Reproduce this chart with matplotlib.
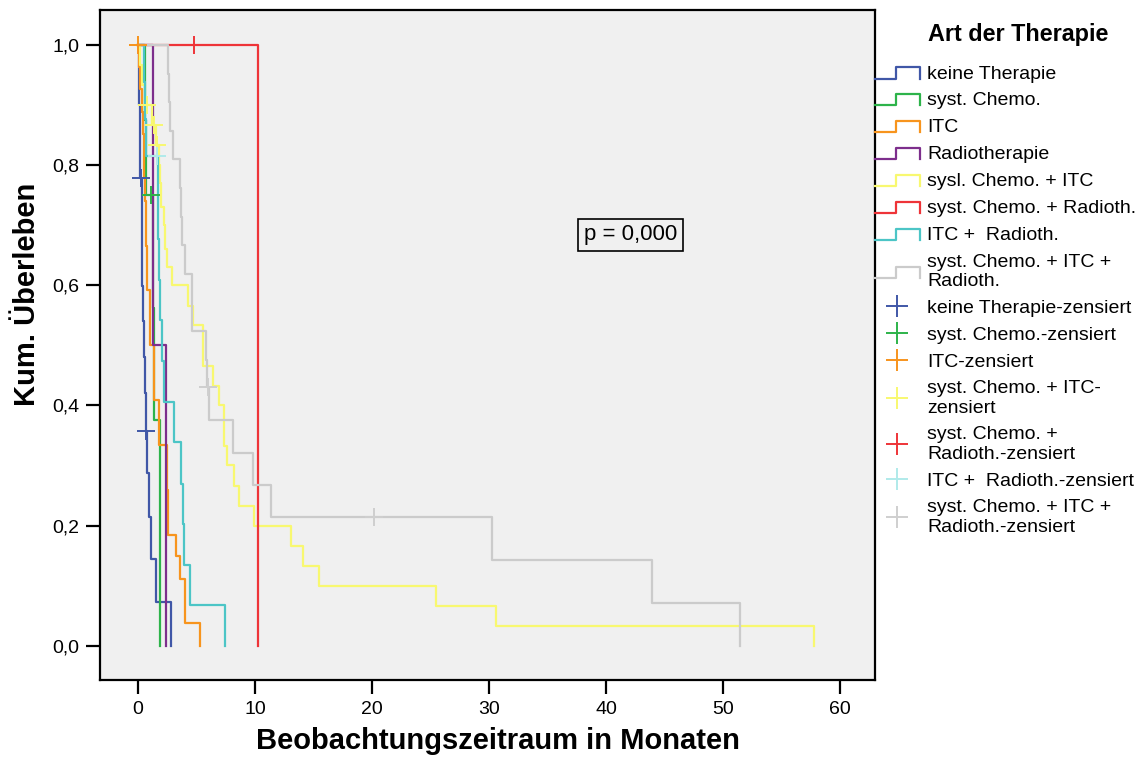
import numpy as np
import matplotlib
matplotlib.use("Agg")
import matplotlib.pyplot as plt
from matplotlib.lines import Line2D
from matplotlib.legend_handler import HandlerBase
from matplotlib.ticker import FuncFormatter

plt.rcParams['font.family'] = ['Liberation Sans', 'DejaVu Sans']

# Kaplan-Meier Stufen (Monate, kum. Ueberleben) je Therapiegruppe
keine_t = [0, 0.05, 0.1, 0.15, 0.2, 0.3, 0.33, 0.38, 0.45, 0.49, 0.62, 0.65, 0.77, 0.91, 1.11, 1.54, 2.82]
keine_s = [1.0, 0.95, 0.9, 0.86, 0.779, 0.72, 0.66, 0.598, 0.54, 0.48, 0.421, 0.358, 0.288, 0.215, 0.145, 0.072, 0.0]
keine_ct = [0.28, 0.7]
keine_cs = [0.779, 0.358]

chemo_t = [0, 0.6, 0.7, 1.3, 1.4, 1.85]
chemo_s = [1.0, 0.875, 0.75, 0.5625, 0.375, 0.0]
chemo_ct = [1.11]
chemo_cs = [0.75]

itc_t = [0, 0.1, 0.2, 0.3, 0.4, 0.5, 0.55, 0.6, 0.65, 0.7, 0.75, 0.77, 1.05, 1.34, 1.77,
         2.45, 2.5, 2.55, 2.6, 3.27, 3.61, 3.99, 5.32]
itc_s = [1.0, 0.963, 0.926, 0.889, 0.852, 0.815, 0.778, 0.74, 0.703, 0.666, 0.63, 0.592, 0.5, 0.409, 0.334,
         0.297, 0.26, 0.222, 0.185, 0.149, 0.111, 0.038, 0.0]
itc_ct = [0.0]
itc_cs = [1.0]

radio_t = [0, 1.3, 2.42]
radio_s = [1.0, 0.5, 0.0]

chemo_itc_t = [0, 0.15, 0.3, 0.6, 1.2, 1.5, 1.8, 1.85, 2.0, 2.2, 2.3, 2.5, 2.9, 4.3, 4.72, 5.57, 6.42,
               6.91, 7.34, 7.57, 8.22, 8.62, 9.9, 13.05, 14.1, 15.47, 25.43, 30.6, 57.8]
chemo_itc_s = [1.0, 0.967, 0.933, 0.9, 0.866, 0.834, 0.8, 0.77, 0.73, 0.7, 0.66, 0.63, 0.6, 0.566, 0.533,
               0.466, 0.433, 0.4, 0.333, 0.3, 0.266, 0.233, 0.2, 0.166, 0.133, 0.1, 0.066, 0.033, 0.0]
chemo_itc_ct = [0.77, 1.34, 1.62]
chemo_itc_cs = [0.9, 0.866, 0.834]

chemo_radio_t = [0, 10.24]
chemo_radio_s = [1.0, 0.0]
chemo_radio_ct = [4.78]
chemo_radio_cs = [1.0]

itc_radio_t = [0, 0.55, 0.6, 0.65, 1.7, 1.75, 1.82, 1.9, 2.05, 2.19, 3.05, 3.7, 3.82, 3.9, 4.46, 7.42]
itc_radio_s = [1.0, 0.938, 0.877, 0.815, 0.745, 0.677, 0.609, 0.542, 0.474, 0.405, 0.339, 0.27, 0.203,
               0.135, 0.068, 0.0]
itc_radio_ct = [1.62]
itc_radio_cs = [0.815]

alle_t = [0, 2.53, 2.65, 2.75, 3.01, 3.58, 3.67, 3.8, 3.98, 4.58, 5.8, 5.9, 6.06, 8.08, 9.79, 11.35,
          30.3, 43.9, 51.5]
alle_s = [1.0, 0.952, 0.905, 0.857, 0.81, 0.762, 0.714, 0.667, 0.619, 0.524, 0.476, 0.43, 0.375, 0.321,
          0.268, 0.214, 0.143, 0.0714, 0.0]
alle_ct = [6.0, 20.2]
alle_cs = [0.43, 0.214]

namen = ["keine Therapie", "syst. Chemo.", "ITC", "Radiotherapie", "sysl. Chemo. + ITC",
         "syst. Chemo. + Radioth.", "ITC +  Radioth.", "syst. Chemo. + ITC +\nRadioth."]
zensiert_namen = ["keine Therapie-zensiert", "syst. Chemo.-zensiert", "ITC-zensiert",
                  "syst. Chemo. + ITC-\nzensiert", "syst. Chemo. +\nRadioth.-zensiert",
                  "ITC +  Radioth.-zensiert", "syst. Chemo. + ITC +\nRadioth.-zensiert"]

farben = ["#4057A7", "#2DB34A", "#F7941D", "#7D2E8C", "#F8F870", "#EE3438", "#4CC5C6", "#CBCBCB"]
zens_farben = ["#4057A7", "#2DB34A", "#F7941D", "#F8F870", "#EE3438", "#B0EAEA", "#CFCFCF"]

kurven = [(keine_t, keine_s), (chemo_t, chemo_s), (itc_t, itc_s), (radio_t, radio_s),
          (chemo_itc_t, chemo_itc_s), (chemo_radio_t, chemo_radio_s), (itc_radio_t, itc_radio_s),
          (alle_t, alle_s)]
zensuren = [(keine_ct, keine_cs), (chemo_ct, chemo_cs), (itc_ct, itc_cs), (chemo_itc_ct, chemo_itc_cs),
            (chemo_radio_ct, chemo_radio_cs), (itc_radio_ct, itc_radio_cs), (alle_ct, alle_cs)]


class StufenHandler(HandlerBase):
    def create_artists(self, legend, orig_handle, xdescent, ydescent, width, height, fontsize, trans):
        x0 = -xdescent
        x1 = x0 + width
        xm = x0 + 0.48 * width
        ylo = -ydescent + 0.0 * height
        yhi = -ydescent + 0.85 * height
        l = Line2D([x0, xm, xm, x1, x1], [ylo, ylo, yhi, yhi, ylo],
                   color=orig_handle.get_color(), lw=orig_handle.get_linewidth())
        l.set_transform(trans)
        return [l]


fig = plt.figure(figsize=(11.46, 7.58), dpi=100)
ax = fig.add_axes([100 / 1146, 78 / 758, 775 / 1146, 670 / 758])
ax.set_facecolor("#F0F0F0")

linien = []
for (t, s), f in zip(kurven, farben):
    h, = ax.step(t, s, where='post', color=f, lw=1.6)
    linien.append(h)

kreuze = []
for (t, s), f in zip(zensuren, zens_farben):
    h, = ax.plot(t, s, '+', color=f, ms=13, mew=1.4, ls='none')
    kreuze.append(h)

ax.set_xlim(-3.25, 63)
ax.set_ylim(-0.057, 1.058)
ax.set_xticks([0, 10, 20, 30, 40, 50, 60])
ax.set_yticks([0, 0.2, 0.4, 0.6, 0.8, 1.0])
ax.yaxis.set_major_formatter(FuncFormatter(lambda v, p: f"{v:.1f}".replace(".", ",")))
ax.tick_params(direction='out', length=10, width=1.6, labelsize=14, pad=5)
for sp in ax.spines.values():
    sp.set_linewidth(1.6)

ax.set_xlabel("Beobachtungszeitraum in Monaten", fontsize=21, fontweight='bold')
ax.set_ylabel("Kum. Überleben", fontsize=21, fontweight='bold')
ax.xaxis.set_label_coords(0.514, -0.07)
ax.yaxis.set_label_coords(-0.076, 0.575)

ax.text(42.1, 0.684, "p = 0,000", fontsize=16, ha='center', va='center',
        bbox=dict(boxstyle='square,pad=0.25', facecolor='none', edgecolor='black', lw=1.2))

fig.text(1018 / 1146, 1 - 35 / 758, "Art der Therapie", fontsize=16.8, fontweight='bold',
         ha='center', va='center')

hmap = {h: StufenHandler() for h in linien}
leg = ax.legend(linien + kreuze, namen + zensiert_namen, handler_map=hmap,
                loc='upper left', bbox_to_anchor=(1.0, 0.918), borderaxespad=0, borderpad=0,
                frameon=False, fontsize=14, handlelength=2.3, handletextpad=0.4,
                labelspacing=0.48, markerscale=1.2)

fig.savefig("out.png", dpi=100)
